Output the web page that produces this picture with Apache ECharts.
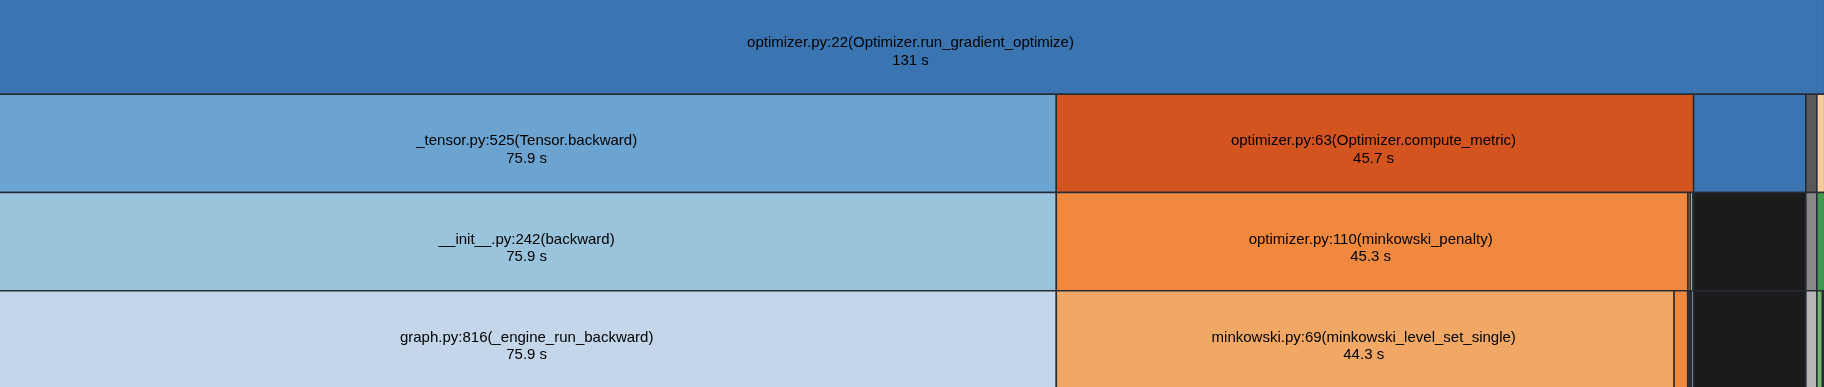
<!DOCTYPE html>
<html><head><meta charset="utf-8">
<script src="https://cdn.jsdelivr.net/npm/echarts@6/dist/echarts.min.js"></script>
<style>html,body{margin:0;padding:0;background:#fff;overflow:hidden}#c{width:1824px;height:387px}</style>
</head><body><div id="c"></div>
<script>
// Profile call tree (snakeviz icicle): name, cumulative time (s), parent index
const names = [
  'optimizer.py:22(Optimizer.run_gradient_optimize)',
  '_tensor.py:525(Tensor.backward)',
  'optimizer.py:63(Optimizer.compute_metric)',
  '', '', '',
  '__init__.py:242(backward)',
  'optimizer.py:110(minkowski_penalty)',
  '', '', '', '', '',
  'graph.py:816(_engine_run_backward)',
  'minkowski.py:69(minkowski_level_set_single)',
  '', '', '', '', '', '', ''
];
const times = [
  131,
  75.9, 45.7, 8.05, 0.79, 0.56,
  75.9, 45.3, 0.17, 0.17, 8.05, 0.79, 0.56,
  75.9, 44.3, 0.97, 0.17, 0.1, 8.05, 0.79, 0.4, 0.1
];
const parents = [
  -1,
  0, 0, 0, 0, 0,
  1, 2, 2, 2, 3, 4, 5,
  6, 7, 7, 8, 9, 10, 11, 12, 12
];
// style: fill colour per node
const nodeColors = [
  '#3a75b2',
  '#6ba4d0', '#d3541e', '#3a75b2', '#595959', '#f6ca9b',
  '#9ac3dc', '#f0883e', '#f08a40', '#b7d6b0', '#1b1b1b', '#888888', '#3f9a50',
  '#c3d6ea', '#f1a865', '#f0883e', '#333333', '#7a6fb2', '#1b1b1b', '#b8b8b8', '#71b66c', '#2f6f3a'
];

const depth = [], start = [], childOffset = [];
for (let i = 0; i < names.length; i++) {
  const p = parents[i];
  if (p < 0) { depth[i] = 0; start[i] = 0; }
  else {
    depth[i] = depth[p] + 1;
    start[i] = start[p] + (childOffset[p] || 0);
    childOffset[p] = (childOffset[p] || 0) + times[i];
  }
}
const data = names.map((n, i) => [start[i], start[i] + times[i], depth[i], i]);

function fmt(t) { return Number(t.toPrecision(3)) + ' s'; }

const chart = echarts.init(document.getElementById('c'));
chart.setOption({
  animation: false,
  backgroundColor: '#ffffff',
  grid: { left: 0, right: 0, top: 0, bottom: 0 },
  // visible window: root box edges sit just outside the view
  xAxis: { type: 'value', min: 0.15, max: 130.95, show: false },
  yAxis: { type: 'value', min: 0.04, max: 3.98, inverse: true, show: false },
  series: [{
    type: 'custom',
    clip: false,
    encode: { x: [0, 1], y: 2 },
    data: data,
    renderItem: function (params, api) {
      const s = api.value(0), e = api.value(1), d = api.value(2), i = api.value(3);
      const a = api.coord([s, d]);
      const b = api.coord([e, d + 1]);
      const w = b[0] - a[0], h = b[1] - a[1];
      const children = [{
        type: 'rect',
        shape: { x: a[0], y: a[1], width: w, height: h },
        style: { fill: nodeColors[i], stroke: '#262c35', lineWidth: 1.5 }
      }];
      if (names[i] && w > 300) {
        const vx0 = Math.max(a[0], 0), vx1 = Math.min(b[0], params.coordSys.x + params.coordSys.width);
        children.push({
          type: 'text',
          style: {
            text: names[i] + '\n' + fmt(times[i]),
            x: (vx0 + vx1) / 2 - 1.5, y: a[1] + h / 2 + 6.5,
            align: 'center', verticalAlign: 'middle',
            font: '15px "Liberation Sans", Arial, sans-serif',
            lineHeight: 17.5, fill: '#000'
          }
        });
      }
      return { type: 'group', children: children };
    }
  }]
});
</script></body></html>
